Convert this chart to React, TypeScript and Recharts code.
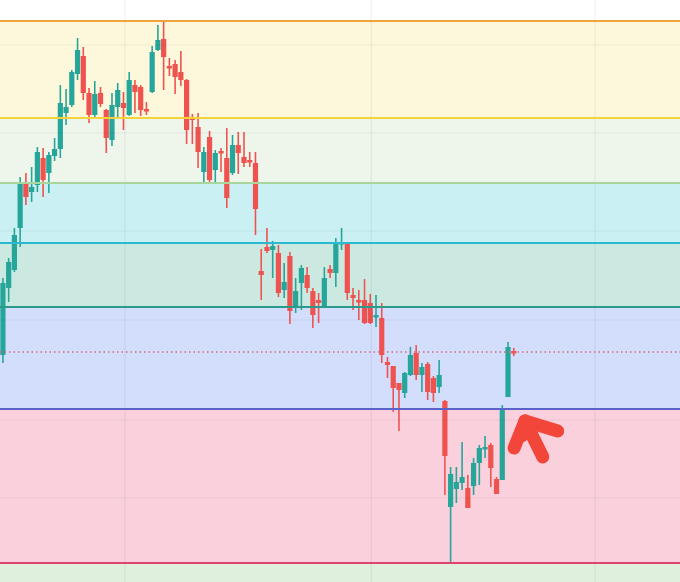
import {
  ComposedChart,
  Bar,
  XAxis,
  YAxis,
  ReferenceArea,
  ReferenceLine,
} from 'recharts';

// price values (no price scale is shown, so units are arbitrary)
const opens = [
  190, 227, 294, 312, 354, 400, 390, 397, 424, 409, 426, 433, 469, 477, 508, 526, 489, 467, 489, 472,
  442, 475, 479, 467, 497, 495, 473, 490, 532, 543, 516, 518, 510, 502, 465, 455, 410, 445, 412, 431,
  424, 409, 437, 425, 422, 419, 311, 335, 332, 329, 292, 326, 275, 299, 307, 291, 282, 275, 313, 309,
  339, 339, 287, 282, 282, 279, 265, 264, 220, 216, 199, 189, 207, 229, 207, 218, 204, 195, 181, 75,
  93, 99, 94, 96, 119, 133, 137, 103, 102, 185, 231,
];
const highs = [
  226, 304, 324, 354, 405, 409, 415, 435, 434, 430, 444, 497, 493, 512, 544, 535, 494, 501, 495, 473,
  489, 499, 490, 510, 502, 497, 480, 536, 557, 561, 524, 522, 531, 503, 468, 469, 435, 451, 432, 434,
  454, 447, 450, 450, 430, 430, 333, 354, 341, 337, 319, 330, 304, 317, 315, 294, 289, 315, 317, 344,
  354, 340, 294, 292, 303, 288, 287, 279, 225, 216, 199, 210, 235, 237, 219, 220, 206, 222, 182, 115,
  115, 140, 107, 124, 137, 146, 139, 105, 177, 240, 234,
];
const lows = [
  184, 219, 280, 310, 335, 377, 380, 390, 385, 389, 421, 424, 457, 475, 502, 482, 459, 465, 475, 429,
  436, 464, 452, 466, 469, 466, 467, 489, 531, 492, 506, 488, 496, 438, 438, 414, 400, 400, 399, 410,
  374, 407, 408, 415, 415, 347, 282, 329, 304, 285, 284, 258, 269, 272, 289, 254, 259, 275, 304, 295,
  332, 282, 272, 262, 258, 258, 255, 219, 204, 170, 151, 184, 206, 202, 190, 182, 180, 189, 87, 20,
  79, 92, 74, 87, 97, 124, 95, 88, 102, 185, 226,
];
const closes = [
  222, 299, 320, 347, 400, 385, 395, 430, 402, 427, 433, 479, 475, 510, 532, 489, 467, 488, 478, 444,
  477, 492, 474, 502, 490, 472, 472, 530, 542, 525, 514, 505, 502, 452, 462, 430, 430, 402, 429, 429,
  384, 437, 429, 419, 421, 373, 307, 331, 336, 289, 300, 271, 291, 314, 294, 267, 279, 304, 309, 339,
  340, 289, 284, 280, 259, 259, 267, 227, 217, 194, 192, 209, 227, 207, 215, 190, 189, 207, 126, 108,
  100, 105, 74, 119, 134, 135, 114, 88, 174, 235, 229,
];

// retracement levels, top to bottom, with the band below each one
const levels = [561, 464, 399, 339, 275, 173, 19];
const levelColors = ['#f0a23c', '#f4d43a', '#a9d69c', '#2bb9d2', '#2a9a8c', '#5b63c9', '#e0456f'];
const bandColors = ['#fdf7db', '#eef6ec', '#caf0f3', '#cce9e1', '#d3ddfc', '#f9d0dc', '#dff0dc'];
const lastPrice = 230;
const gridPrices = [537, 449, 351, 262, 162, 84];
const gridIndexes = [21.2, 64.1, 103.1];

const GREEN = '#26a69a';
const RED = '#ef5350';
const ARROW = '#f2463a';

const data = opens.map((open, k) => ({
  i: k - 1,
  open,
  high: highs[k],
  low: lows[k],
  close: closes[k],
}));

function Candle(props: any) {
  const { x, y, width, height, payload } = props;
  const { open, close, high, low } = payload;
  const top = Math.min(y, y + height);
  const h = Math.abs(height);
  const unit = high === low ? 0 : h / (high - low);
  const cx = x + width / 2;
  const color = close >= open ? GREEN : RED;
  const bodyTop = top + (high - Math.max(open, close)) * unit;
  const bodyH = Math.max(Math.abs(open - close) * unit, 2.5);
  return (
    <g>
      <line x1={cx} x2={cx} y1={top} y2={top + h} stroke={color} strokeWidth={1.6} />
      <rect x={cx - 2.6} y={bodyTop} width={5.2} height={bodyH} fill={color} />
    </g>
  );
}

export default function App() {
  return (
    <div style={{ position: 'absolute', left: 0, top: 0, width: 680, height: 582, background: '#fff' }}>
      <ComposedChart width={680} height={582} data={data} margin={{ top: 0, right: 0, bottom: 0, left: 0 }}>
        <XAxis dataKey="i" type="number" domain={[-0.575, 117.9]} hide allowDataOverflow />
        <YAxis type="number" domain={[0, 582]} hide allowDataOverflow />
        {levels.map((lv, k) => (
          <ReferenceArea
            key={`band-${k}`}
            y1={k === levels.length - 1 ? 0 : levels[k + 1]}
            y2={lv}
            fill={bandColors[k]}
            fillOpacity={1}
            stroke="none"
          />
        ))}
        {gridPrices.map((g) => (
          <ReferenceLine key={`gy-${g}`} y={g} stroke="#000" strokeOpacity={0.05} strokeWidth={1} />
        ))}
        {gridIndexes.map((g) => (
          <ReferenceLine key={`gx-${g}`} x={g} stroke="#000" strokeOpacity={0.06} strokeWidth={1.2} />
        ))}
        {levels.map((lv, k) => (
          <ReferenceLine key={`lv-${k}`} y={lv} stroke={levelColors[k]} strokeWidth={2} />
        ))}
        <ReferenceLine y={lastPrice} stroke="#d66a78" strokeWidth={1.3} strokeDasharray="1.5 3" />
        <Bar
          dataKey={(d: any) => [d.low, d.high]}
          barSize={5}
          shape={Candle}
          isAnimationActive={false}
        />
        {/* hand-drawn arrow pointing at the breakout */}
        <ReferenceLine
          segment={[{ x: 90.9, y: 161 }, { x: 96.6, y: 151 }]}
          stroke={ARROW}
          strokeWidth={13}
          strokeLinecap="round"
        />
        <ReferenceLine
          segment={[{ x: 90.9, y: 161 }, { x: 89.0, y: 134 }]}
          stroke={ARROW}
          strokeWidth={13}
          strokeLinecap="round"
        />
        <ReferenceLine
          segment={[{ x: 90.9, y: 161 }, { x: 94.0, y: 125 }]}
          stroke={ARROW}
          strokeWidth={13}
          strokeLinecap="round"
        />
        <ReferenceLine
          segment={[{ x: 92.2, y: 155 }, { x: 90.3, y: 146 }]}
          stroke={ARROW}
          strokeWidth={13}
          strokeLinecap="round"
        />
      </ComposedChart>
    </div>
  );
}
